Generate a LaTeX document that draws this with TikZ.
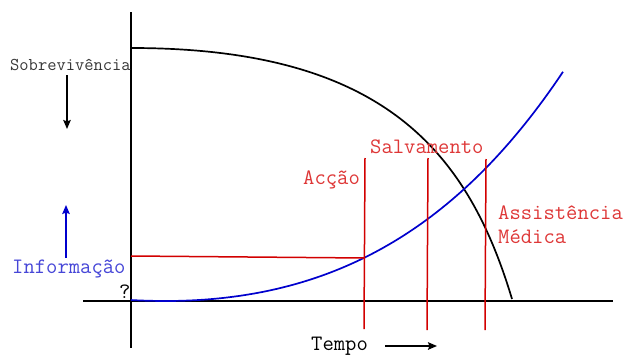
\documentclass[tikz,border=0pt]{standalone}
\usetikzlibrary{arrows.meta}
\definecolor{txtRed}{RGB}{222,55,55}
\definecolor{lineRed}{RGB}{210,0,0}
\definecolor{txtBlue}{RGB}{70,70,215}
\definecolor{curveBlue}{RGB}{0,0,205}
\definecolor{txtGray}{RGB}{55,55,55}
\begin{document}
\begin{tikzpicture}[x=1pt,y=-1pt,
  axis/.style={line width=1.8pt,black},
  redline/.style={line width=1.5pt,lineRed},
  bigtext/.style={font=\ttfamily\fontsize{22}{26}\selectfont, inner sep=0pt, anchor=base west},
  smalltext/.style={font=\ttfamily\fontsize{18}{21}\selectfont, inner sep=0pt, anchor=base west},
  arr/.style={line width=1.8pt,-{Stealth[length=9pt,width=7.5pt,inset=1.5pt]}}]
\useasboundingbox (0,0) rectangle (626,356);
% axes
\coordinate (ytop) at (131,12);
\coordinate (ybot) at (131,348);
\coordinate (xl) at (83,301);
\coordinate (xr) at (613,301);
\draw[axis] (ytop) -- (ybot);
\draw[axis] (xl) -- (xr);
% survival curve
\coordinate (s0) at (131,48);
\coordinate (s1) at (381,48);
\coordinate (s2) at (467,149);
\coordinate (s3) at (512,299);
\draw[line width=1.7pt,black] (s0) .. controls (s1) and (s2) .. (s3);
% information curve
\draw[line width=1.7pt,curveBlue] plot[domain=131:563,samples=90] (\x,{301-130.7*(exp((\x-165)/278)-1-(\x-165)/278)});
% red lines
\coordinate (h0) at (131,256);
\coordinate (v1t) at (365,158);
\coordinate (v1m) at (365,258);
\coordinate (v1b) at (364,329);
\coordinate (v2t) at (428,158);
\coordinate (v2b) at (427,330);
\coordinate (v3t) at (486,159);
\coordinate (v3b) at (485,330);
\draw[redline] (h0) -- (v1m);
\draw[redline] (v1t) -- (v1b);
\draw[redline] (v2t) -- (v2b);
\draw[redline] (v3t) -- (v3b);
% labels
\node[bigtext,txtRed] (accao) at (303,184) {Acção};
\node[bigtext,txtRed] (salv) at (370,153) {Salvamento};
\node[bigtext,txtRed] (assist) at (498,219) {Assistência};
\node[bigtext,txtRed] (medica) at (498,243) {Médica};
\node[bigtext,txtBlue] (info) at (12,273) {Informação};
\node[smalltext,txtGray] (sobre) at (10,70.5) {Sobrevivência};
\node[bigtext,black] (q) at (119,298) {?};
\node[bigtext,black] (tempo) at (311,350) {Tempo};
% arrows
\coordinate (sa) at (67,75);
\coordinate (sb) at (67,129);
\coordinate (ia) at (66,258);
\coordinate (ib) at (66,205);
\coordinate (ta) at (385,346);
\coordinate (tb) at (437,346);
\draw[arr,black] (sa) -- (sb);
\draw[arr,curveBlue] (ia) -- (ib);
\draw[arr,black] (ta) -- (tb);
\end{tikzpicture}
\end{document}
